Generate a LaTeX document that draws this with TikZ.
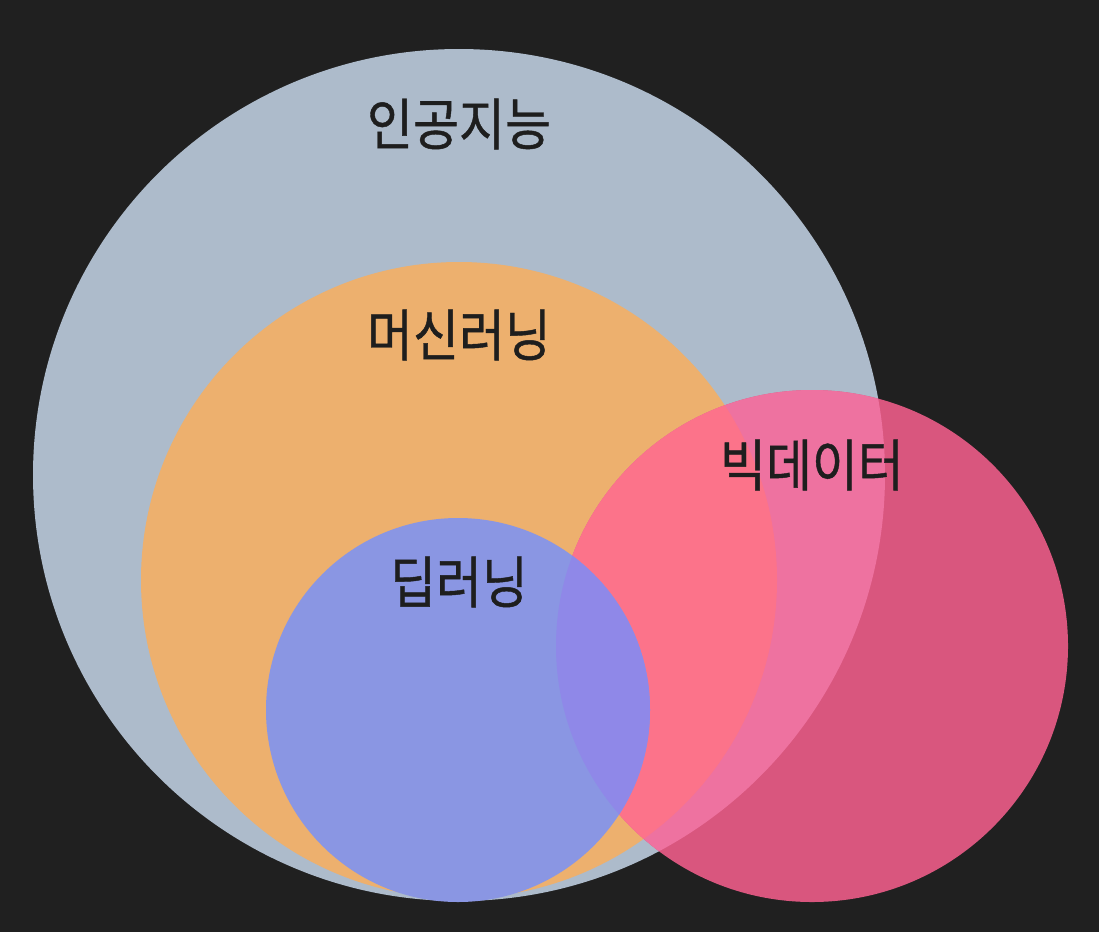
\documentclass[tikz,border=0pt]{standalone}
\usepackage{fontspec}
\newfontfamily\kr[FakeBold=0.8]{Noto Sans CJK KR}
\definecolor{bg}{HTML}{202020}
\definecolor{ai}{HTML}{ADBBCB}
\definecolor{ml}{HTML}{EDB06E}
\definecolor{dl}{HTML}{8A96E3}
\definecolor{bd}{HTML}{D9567E}
\definecolor{bdai}{HTML}{EE72A0}
\definecolor{bdml}{HTML}{FC738A}
\definecolor{dlbd}{HTML}{8F88E8}
\definecolor{txt}{HTML}{1E1E1E}
\newcommand\krlbl[1]{\scalebox{1}[1.12]{#1}}
\begin{document}
\begin{tikzpicture}[x=1pt,y=-1pt,
  lbl/.style={text=txt,font=\kr\fontsize{50}{54}\selectfont,inner sep=0pt}]
\fill[bg] (0,0) rectangle (1099,932);
\useasboundingbox (0,0) rectangle (1099,932);
\def\AI{(459,475) circle[radius=426pt]}
\def\ML{(459,580) circle[radius=318pt]}
\def\DL{(458,710) circle[radius=192pt]}
\def\BD{(812,646) circle[radius=256pt]}
\fill[ai] \AI;
\fill[ml] \ML;
\fill[bd] \BD;
\begin{scope}\clip \BD; \fill[bdai] \AI; \end{scope}
\begin{scope}\clip \BD; \fill[bdml] \ML; \end{scope}
\fill[dl] \DL;
\begin{scope}\clip \BD; \fill[dlbd] \DL; \end{scope}
\node[lbl] (ait) at (459,124) {\krlbl{인공지능}};
\node[lbl] (mlt) at (459,335) {\krlbl{머신러닝}};
\node[lbl] (bdt) at (812,465) {\krlbl{빅데이터}};
\node[lbl] (dlt) at (459,582) {\krlbl{딥러닝}};
\end{tikzpicture}
\end{document}
